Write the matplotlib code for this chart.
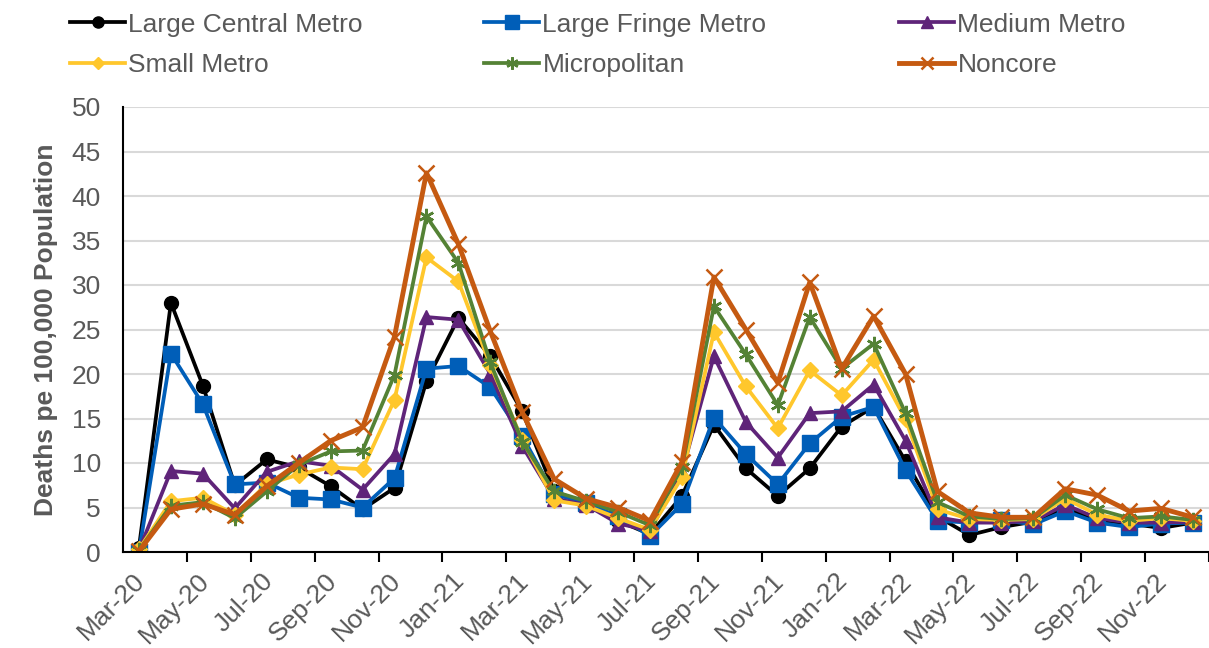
import matplotlib
matplotlib.use("Agg")
import matplotlib.pyplot as plt
import matplotlib.transforms as mtransforms

plt.rcParams['font.family'] = ['Liberation Sans', 'DejaVu Sans']

months = ["Mar-20", "Apr-20", "May-20", "Jun-20", "Jul-20", "Aug-20", "Sep-20", "Oct-20",
          "Nov-20", "Dec-20", "Jan-21", "Feb-21", "Mar-21", "Apr-21", "May-21", "Jun-21",
          "Jul-21", "Aug-21", "Sep-21", "Oct-21", "Nov-21", "Dec-21", "Jan-22", "Feb-22",
          "Mar-22", "Apr-22", "May-22", "Jun-22", "Jul-22", "Aug-22", "Sep-22", "Oct-22",
          "Nov-22", "Dec-22"]

large_central = [0.5, 28.0, 18.7, 7.5, 10.4, 9.5, 7.4, 4.8, 7.2, 19.2, 26.3, 22.0, 15.8, 6.8,
                 5.5, 3.5, 2.0, 6.3, 14.3, 9.4, 6.3, 9.4, 14.1, 16.3, 10.2, 4.0, 1.9, 2.8,
                 3.4, 5.0, 3.5, 3.2, 2.7, 3.3]
large_fringe = [0.0, 22.3, 16.6, 7.6, 7.8, 6.1, 5.9, 5.0, 8.3, 20.6, 20.9, 18.5, 13.0, 6.5,
                5.5, 4.0, 1.8, 5.4, 15.1, 11.0, 7.6, 12.2, 15.2, 16.3, 9.2, 3.5, 3.3, 3.6,
                3.1, 4.6, 3.3, 2.8, 3.2, 3.3]
medium_metro = [0.2, 9.1, 8.8, 4.9, 9.0, 10.2, 9.7, 7.0, 11.0, 26.4, 26.1, 20.0, 11.9, 6.0,
                5.3, 3.2, 2.4, 9.0, 22.0, 14.6, 10.6, 15.6, 15.8, 18.8, 12.5, 3.9, 3.3, 3.3,
                3.5, 5.3, 3.8, 3.3, 3.3, 3.4]
small_metro = [0.3, 5.7, 6.1, 4.2, 7.6, 8.7, 9.5, 9.3, 17.1, 33.1, 30.4, 21.0, 12.6, 5.8,
               5.2, 3.8, 2.5, 8.4, 24.7, 18.6, 13.9, 20.4, 17.6, 21.6, 14.9, 4.8, 3.7, 3.6,
               3.7, 6.0, 4.2, 3.5, 3.8, 3.5]
micropolitan = [0.2, 5.2, 5.6, 3.8, 6.8, 9.8, 11.3, 11.4, 19.9, 37.7, 32.5, 21.3, 12.4, 6.8,
                5.7, 4.5, 3.0, 9.5, 27.6, 22.2, 16.5, 26.4, 20.6, 23.4, 15.6, 5.6, 4.0, 3.7,
                3.8, 6.4, 4.8, 3.8, 4.0, 3.6]
noncore = [0.1, 4.8, 5.4, 4.2, 7.4, 10.0, 12.5, 14.0, 24.2, 42.6, 34.6, 24.8, 15.7, 8.2,
           6.0, 5.0, 3.5, 10.1, 30.9, 25.0, 19.0, 30.3, 20.6, 26.5, 20.0, 6.8, 4.4, 3.9,
           3.9, 7.1, 6.4, 4.6, 4.9, 3.9]

series = [
    ("Large Central Metro", large_central, "#000000", "o", 10, 2.7),
    ("Large Fringe Metro", large_fringe, "#005EB8", "s", 12, 2.7),
    ("Medium Metro", medium_metro, "#5F2479", "^", 10, 2.7),
    ("Small Metro", small_metro, "#FFC72C", "D", 8, 2.7),
    ("Micropolitan", micropolitan, "#548235", (6, 2, 0), 11, 2.7),
    ("Noncore", noncore, "#C55A11", "x", 11, 3.5),
]

fig = plt.figure(figsize=(12.09, 6.48), dpi=100)
ax = fig.add_axes([123 / 1209, (648 - 552) / 648, (1209 - 123) / 1209, 445 / 648])

x = list(range(len(months)))
handles = []
for name, vals, col, mk, ms, lw in series:
    mew = 1.8 if mk in ("x", (6, 2, 0)) else 1.0
    h, = ax.plot(x, vals, color=col, lw=lw, marker=mk, markersize=ms,
                 markerfacecolor=col, markeredgecolor=col, markeredgewidth=mew,
                 label=name, solid_joinstyle='round')
    handles.append(h)

ax.set_ylim(0, 50)
ax.set_xlim(-0.5, len(months) - 0.5)
ax.set_yticks(range(0, 51, 5))
ax.yaxis.grid(True, color="#D9D9D9", lw=1.5)
ax.set_axisbelow(True)
ax.tick_params(axis='y', length=0, labelsize=19, labelcolor="#595959", pad=16)

# tick marks at category boundaries, labels at every other category
ax.set_xticks([i + 1.5 for i in range(0, len(months) - 1, 2)])
ax.set_xticklabels([])
ax.tick_params(axis='x', which='major', direction='out', length=7, width=1.5, color="#000000")
ax.set_xticks(x[::2], minor=True)
ax.set_xticklabels(months[::2], minor=True, rotation=45, ha='right', va='top',
                   rotation_mode='anchor', fontsize=19, color="#595959")
ax.tick_params(axis='x', which='minor', length=0, pad=12)
offset = mtransforms.ScaledTranslation(-6 / 100, 0, fig.dpi_scale_trans)
for lbl in ax.get_xticklabels(minor=True):
    lbl.set_transform(lbl.get_transform() + offset)

for s in ['top', 'right']:
    ax.spines[s].set_visible(False)
ax.spines['left'].set_color("#000000")
ax.spines['left'].set_linewidth(1.5)
ax.spines['bottom'].set_color("#000000")
ax.spines['bottom'].set_linewidth(1.5)

ax.set_ylabel("Deaths pe 100,000 Population", fontsize=19, fontweight='bold',
              color="#595959", labelpad=10)

# Legends: three columns of two rows each
cols = [(0, 3), (1, 4), (2, 5)]
xpos = [54 / 1209, 468 / 1209, 883 / 1209]
for (a, b), xp in zip(cols, xpos):
    leg = fig.legend([handles[a], handles[b]], [series[a][0], series[b][0]],
                     loc='upper left', bbox_to_anchor=(xp, 1.005), frameon=False,
                     fontsize=19, handlelength=2.1, handletextpad=0.12,
                     labelspacing=0.62, borderaxespad=0.2, markerscale=0.8)
    for t in leg.get_texts():
        t.set_color("#595959")

fig.savefig("out.png", dpi=100)
